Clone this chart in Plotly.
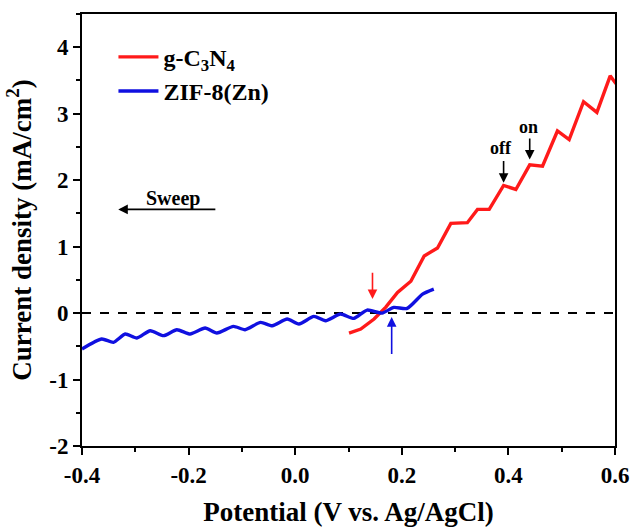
import plotly.graph_objects as go

# ZIF-8(Zn) LSV curve
zif_x = [-0.40, -0.363, -0.341, -0.319, -0.297, -0.272, -0.247, -0.222, -0.197, -0.169,
         -0.147, -0.116, -0.094, -0.065, -0.043, -0.015, 0.007, 0.035, 0.057, 0.085,
         0.11, 0.135, 0.163, 0.185, 0.21, 0.239, 0.26]
zif_y = [-0.54, -0.39, -0.44, -0.315, -0.375, -0.265, -0.34, -0.25, -0.315, -0.225,
         -0.30, -0.20, -0.25, -0.14, -0.19, -0.09, -0.165, -0.05, -0.115, -0.015,
         -0.08, 0.045, 0.0, 0.085, 0.07, 0.285, 0.36]

# g-C3N4 chopped LSV curve
gcn_x = [0.101, 0.123, 0.148, 0.170, 0.192, 0.217, 0.242, 0.267, 0.292, 0.323,
         0.342, 0.364, 0.391, 0.414, 0.44, 0.464, 0.492, 0.514, 0.541, 0.566,
         0.591, 0.602]
gcn_y = [-0.30, -0.24, -0.09, 0.09, 0.31, 0.48, 0.86, 0.98, 1.35, 1.36,
         1.56, 1.56, 1.92, 1.86, 2.23, 2.21, 2.74, 2.61, 3.18, 3.02,
         3.57, 3.45]

x_ticks = [-0.4, -0.2, 0.0, 0.2, 0.4, 0.6]
x_labels = ["-0.4", "-0.2", "0.0", "0.2", "0.4", "0.6"]
y_ticks = [-2, -1, 0, 1, 2, 3, 4]
y_labels = ["-2", "-1", "0", "1", "2", "3", "4"]

FONT = "Liberation Serif"

fig = go.Figure()
fig.add_trace(go.Scatter(x=gcn_x, y=gcn_y, mode="lines", name="g-C<sub>3</sub>N<sub>4</sub>",
                         line=dict(color="#ff1a1a", width=3.4)))
fig.add_trace(go.Scatter(x=zif_x, y=zif_y, mode="lines", name="ZIF-8(Zn)",
                         line=dict(color="#1010e0", width=3.4, shape="spline", smoothing=0.6)))

# dashed zero line
fig.add_shape(type="line", xref="paper", yref="y", x0=0, x1=1, y0=0, y1=0,
              line=dict(color="black", width=2, dash="dash"), layer="below")

def arrow(xh, yh, xt, yt, color):
    fig.add_annotation(x=xh, y=yh, ax=xt, ay=yt, xref="x", yref="y", axref="x", ayref="y",
                       showarrow=True, arrowhead=2, arrowsize=1.2, arrowwidth=1.6,
                       arrowcolor=color, text="")

arrow(0.145, 0.21, 0.145, 0.63, "#ff1a1a")
arrow(0.181, -0.06, 0.181, -0.64, "#1010e0")
arrow(0.391, 1.96, 0.391, 2.31, "black")
arrow(0.440, 2.31, 0.440, 2.65, "black")
arrow(-0.332, 1.56, -0.147, 1.56, "black")

for t, x, y, s in [("off", 0.386, 2.49, 18), ("on", 0.437, 2.80, 18), ("Sweep", -0.229, 1.72, 20)]:
    fig.add_annotation(x=x, y=y, xref="x", yref="y", text=t, showarrow=False,
                       font=dict(family=FONT, size=s, color="black", weight="bold"))

axis_common = dict(showline=True, linecolor="black", linewidth=2, mirror=True,
                   ticks="outside", ticklen=7, tickwidth=2, tickcolor="black",
                   showgrid=False, zeroline=False, automargin=False,
                   tickfont=dict(family=FONT, size=23, color="black", weight="bold"))

fig.update_xaxes(range=[-0.4, 0.6], tickvals=x_ticks, ticktext=x_labels,
                 minor=dict(ticks="outside", ticklen=4, tickwidth=2, tickcolor="black", dtick=0.1),
                 title=dict(text="Potential (V vs. Ag/AgCl)", standoff=16,
                            font=dict(family=FONT, size=27, color="black", weight="bold")),
                 **axis_common)
fig.update_yaxes(range=[-2, 4.5], tickvals=y_ticks, ticktext=y_labels,
                 minor=dict(ticks="outside", ticklen=4, tickwidth=2, tickcolor="black", dtick=0.5),
                 title=dict(text="Current density (mA/cm<sup>2</sup>)", standoff=10,
                            font=dict(family=FONT, size=27, color="black", weight="bold")),
                 **axis_common)

fig.update_layout(
    width=635, height=531,
    margin=dict(l=82, r=20, t=14, b=85),
    plot_bgcolor="white", paper_bgcolor="white",
    legend=dict(x=0.059, y=0.952, xanchor="left", yanchor="top", bgcolor="rgba(0,0,0,0)",
                font=dict(family=FONT, size=24, color="black", weight="bold"),
                tracegroupgap=0, itemwidth=40),
)

fig.write_html("out.html")
